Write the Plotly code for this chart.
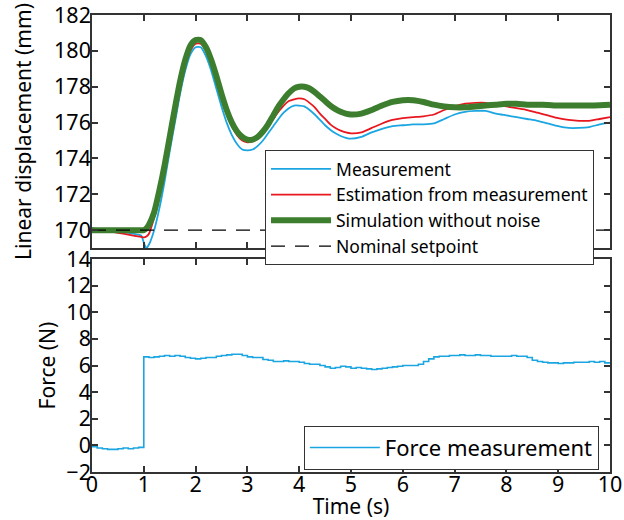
import plotly.graph_objects as go

# ---------------- data ----------------
t_disp = [0.0, 0.2, 0.4, 0.6, 0.8, 0.95, 1.0, 1.05, 1.1, 1.2, 1.3, 1.4, 1.5, 1.6, 1.7, 1.8, 1.9,
          2.0, 2.1, 2.2, 2.3, 2.4, 2.5, 2.6, 2.7, 2.8, 2.9, 3.0, 3.1, 3.2, 3.3, 3.4, 3.5, 3.6,
          3.7, 3.8, 3.9, 4.0, 4.1, 4.2, 4.3, 4.4, 4.5, 4.6, 4.7, 4.8, 4.9, 5.0, 5.2, 5.4, 5.6,
          5.8, 6.0, 6.2, 6.4, 6.6, 6.8, 7.0, 7.2, 7.4, 7.6, 7.8, 8.0, 8.2, 8.4, 8.6, 8.8, 9.0,
          9.2, 9.4, 9.6, 9.8, 10.0]

measurement = [170.1, 170.05, 170.0, 169.9, 169.8, 169.7, 169.3, 169.0, 169.2, 170.0, 171.2,
               172.7, 174.4, 176.0, 177.6, 178.9, 179.8, 180.2, 180.2, 179.7, 178.9, 177.9,
               176.9, 176.0, 175.3, 174.8, 174.5, 174.45, 174.5, 174.7, 175.0, 175.4, 175.8,
               176.2, 176.55, 176.8, 176.95, 176.95, 176.9, 176.7, 176.45, 176.15, 175.85,
               175.6, 175.4, 175.25, 175.15, 175.1, 175.2, 175.45, 175.65, 175.8, 175.85,
               175.9, 175.9, 175.95, 176.2, 176.45, 176.6, 176.65, 176.65, 176.5, 176.4,
               176.3, 176.2, 176.1, 175.95, 175.8, 175.7, 175.7, 175.75, 175.9, 176.0]

estimation = [170.1, 170.0, 169.9, 169.8, 169.7, 169.62, 169.6, 169.65, 169.8, 170.7, 171.9,
              173.3, 174.9, 176.5, 178.0, 179.2, 180.0, 180.4, 180.4, 180.0, 179.3, 178.4,
              177.4, 176.5, 175.8, 175.3, 175.0, 174.9, 174.95, 175.1, 175.4, 175.8, 176.2,
              176.6, 176.95, 177.2, 177.3, 177.35, 177.3, 177.1, 176.85, 176.5, 176.2,
              175.9, 175.7, 175.55, 175.45, 175.4, 175.45, 175.7, 175.95, 176.15, 176.25,
              176.3, 176.35, 176.45, 176.7, 176.9, 177.05, 177.1, 177.1, 177.0, 176.9,
              176.8, 176.7, 176.55, 176.4, 176.25, 176.15, 176.1, 176.1, 176.2, 176.3]

simulation = [170.0, 170.0, 170.0, 170.0, 170.0, 170.0, 170.0, 170.1, 170.3, 171.0, 172.2,
              173.6, 175.2, 176.8, 178.3, 179.5, 180.3, 180.6, 180.6, 180.2, 179.5, 178.6,
              177.6, 176.7, 176.0, 175.5, 175.2, 175.05, 175.05, 175.2, 175.5, 175.9, 176.4,
              176.9, 177.3, 177.65, 177.9, 178.0, 178.0, 177.9, 177.7, 177.45, 177.2,
              176.95, 176.75, 176.6, 176.5, 176.45, 176.5, 176.7, 176.95, 177.15, 177.25,
              177.25, 177.15, 177.0, 176.9, 176.85, 176.85, 176.9, 176.95, 177.0, 177.05,
              177.05, 177.0, 177.0, 176.98, 176.95, 176.95, 176.95, 176.95, 176.97, 177.0]

t_setpoint = [0.0, 10.0]
setpoint = [170.0, 170.0]

t_force = [round(0.1 * i, 1) for i in range(101)]
force = [-0.1, -0.2, -0.25, -0.3, -0.3, -0.25, -0.2, -0.25, -0.2, -0.15,
         6.65, 6.6, 6.65, 6.7, 6.75, 6.7, 6.75, 6.7, 6.6, 6.55,
         6.5, 6.55, 6.6, 6.6, 6.7, 6.75, 6.8, 6.85, 6.85, 6.75,
         6.65, 6.6, 6.6, 6.45, 6.4, 6.3, 6.3, 6.35, 6.3, 6.3,
         6.25, 6.15, 6.1, 6.1, 6.0, 5.9, 5.8, 5.85, 5.95, 5.9,
         5.8, 5.85, 5.8, 5.75, 5.7, 5.75, 5.8, 5.85, 5.9, 5.95,
         6.0, 6.0, 6.0, 6.1, 6.3, 6.5, 6.65, 6.7, 6.7, 6.75,
         6.75, 6.8, 6.75, 6.75, 6.8, 6.75, 6.75, 6.7, 6.7, 6.7,
         6.7, 6.75, 6.7, 6.7, 6.6, 6.4, 6.3, 6.25, 6.2, 6.2,
         6.15, 6.2, 6.2, 6.25, 6.25, 6.25, 6.3, 6.25, 6.3, 6.2,
         6.25]

x_ticks = list(range(0, 11))
disp_ticks = list(range(170, 183, 2))
force_ticks = list(range(-2, 15, 2))

# ---------------- figure ----------------
BLUE = "#1BA6E1"
RED = "#E8161E"
GREEN = "#3C7E2E"
FONT = "Noto Sans"

fig = go.Figure()
fig.add_trace(go.Scatter(x=t_disp, y=measurement, name="Measurement", mode="lines",
                         line=dict(color=BLUE, width=1.8, shape="spline", smoothing=0.6),
                         xaxis="x", yaxis="y", legend="legend"))
fig.add_trace(go.Scatter(x=t_disp, y=estimation, name="Estimation from measurement", mode="lines",
                         line=dict(color=RED, width=1.8, shape="spline", smoothing=0.6),
                         xaxis="x", yaxis="y", legend="legend"))
fig.add_trace(go.Scatter(x=t_disp, y=simulation, name="Simulation without noise", mode="lines",
                         line=dict(color=GREEN, width=6, shape="spline", smoothing=0.6),
                         xaxis="x", yaxis="y", legend="legend"))
fig.add_trace(go.Scatter(x=t_setpoint, y=setpoint, name="Nominal setpoint", mode="lines",
                         line=dict(color="black", width=1.2, dash="14px,10px"),
                         xaxis="x", yaxis="y", legend="legend"))
fig.add_trace(go.Scatter(x=t_force, y=force, name="Force measurement", mode="lines",
                         line=dict(color=BLUE, width=1.6, shape="hv"),
                         xaxis="x2", yaxis="y2", legend="legend2"))

axis_common = dict(showline=True, linecolor="#333333", linewidth=1.5, mirror="ticks",
                   ticks="inside", ticklen=6, tickwidth=1.5, tickcolor="#333333",
                   showgrid=False, zeroline=False, automargin=False,
                   ticklabeloverflow="allow",
                   tickfont=dict(family=FONT, size=21.5, color="black"))

TITLE_FONT = dict(family=FONT, size=21, color="black")

fig.update_layout(
    width=624, height=520,
    margin=dict(l=92, r=14, t=15, b=48),
    paper_bgcolor="white", plot_bgcolor="white",
    font=dict(family=FONT, size=18, color="black"),
    xaxis=dict(axis_common, range=[0, 10], tickvals=x_ticks, showticklabels=False,
               anchor="y", domain=[0, 1]),
    yaxis=dict(axis_common, range=[169, 182], tickvals=disp_ticks, domain=[0.490, 1],
               anchor="x", ticklabelstandoff=-5,
               title=dict(text="Linear displacement (mm)", standoff=17, font=TITLE_FONT)),
    xaxis2=dict(axis_common, range=[0, 10], tickvals=x_ticks, anchor="y2", domain=[0, 1],
                ticklabelstandoff=-8,
                title=dict(text="Time (s)", standoff=8, font=TITLE_FONT)),
    yaxis2=dict(axis_common, range=[-2, 14], tickvals=force_ticks, domain=[0, 0.466],
                anchor="x2", ticklabelstandoff=-5,
                title=dict(text="Force (N)", standoff=5, font=TITLE_FONT)),
    legend=dict(x=0.334, y=0.7046, xanchor="left", yanchor="top",
                bgcolor="white", bordercolor="#333333", borderwidth=1,
                itemwidth=60, tracegroupgap=0,
                font=dict(family=FONT, size=17.5, color="black")),
    legend2=dict(x=0.409, y=0.005, xanchor="left", yanchor="bottom",
                 bgcolor="white", bordercolor="#333333", borderwidth=1,
                 itemwidth=70,
                 font=dict(family=FONT, size=22, color="black")),
    showlegend=True,
)

fig.write_html("out.html", config={"displayModeBar": False},
               post_script="document.body.style.margin='0';document.body.style.padding='0';")
